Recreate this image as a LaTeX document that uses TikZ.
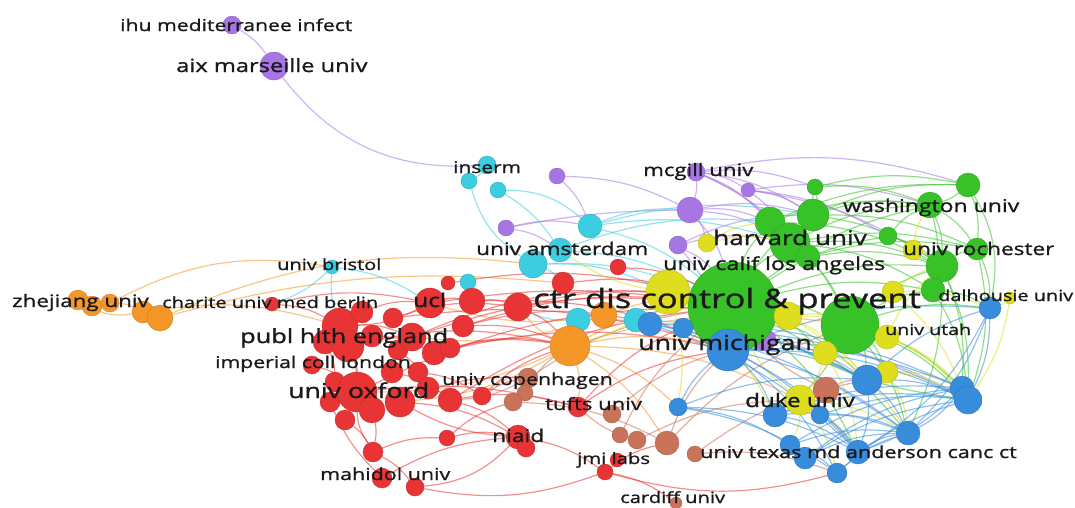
\documentclass[tikz,border=0pt]{standalone}
\usepackage{fontspec}
\setmainfont[FakeStretch=1.3,FakeBold=1.2]{Open Sans}

\definecolor{vpurple}{RGB}{168,118,228}
\definecolor{vcyan}{RGB}{60,205,225}
\definecolor{vred}{RGB}{232,52,52}
\definecolor{vorange}{RGB}{245,150,40}
\definecolor{vgreen}{RGB}{55,195,40}
\definecolor{vyellow}{RGB}{222,222,30}
\definecolor{vblue}{RGB}{55,140,220}
\definecolor{vbrown}{RGB}{200,115,90}

\pgfdeclarelayer{edges}
\pgfsetlayers{edges,main}

\begin{document}
\begin{tikzpicture}[x=1pt,y=-1pt,
  vos/.style={circle,inner sep=0pt,fill=#1,draw=#1!80!black,line width=0.3pt},
  pn/.style={vos=vpurple,minimum size=#1},
  cn/.style={vos=vcyan,minimum size=#1},
  on/.style={vos=vorange,minimum size=#1},
  rn/.style={vos=vred,minimum size=#1},
  bn/.style={vos=vbrown,minimum size=#1},
  gn/.style={vos=vgreen,minimum size=#1},
  yn/.style={vos=vyellow,minimum size=#1},
  ln/.style={vos=vblue,minimum size=#1},
  link/.style={draw=#1,draw opacity=0.55,line width=1.2pt,bend left=12},
  lab/.style={anchor=base west,inner sep=0pt,text=black!90,font=\fontsize{#1}{#1}\selectfont}]

  \useasboundingbox (0,0) rectangle (1075,507);

  \node[pn=18] (ihu) at (232,25) {};
  \node[pn=28] (aix) at (274,66) {};
  \node[pn=16] (p1) at (557,176) {};
  \node[pn=16] (p2) at (506,228) {};
  \node[pn=18] (mcg) at (696,172) {};
  \node[pn=14] (p3) at (748,190) {};
  \node[pn=26] (p4) at (690,210) {};
  \node[pn=18] (p5) at (678,245) {};
  \node[pn=22] (p6) at (765,340) {};

  \node[cn=18] (ins1) at (487,165) {};
  \node[cn=16] (ins2) at (469,181) {};
  \node[cn=16] (ins3) at (498,190) {};
  \node[cn=24] (c1) at (590,226) {};
  \node[cn=24] (ams1) at (560,250) {};
  \node[cn=28] (ams2) at (533,264) {};
  \node[cn=16] (c2) at (468,282) {};
  \node[cn=14] (bri) at (332,267) {};
  \node[cn=24] (c3) at (578,320) {};
  \node[cn=24] (c4) at (636,320) {};

  \node[on=20] (zj1) at (78,300) {};
  \node[on=20] (zj2) at (92,306) {};
  \node[on=18] (zj3) at (110,303) {};
  \node[on=22] (o4) at (143,312) {};
  \node[on=26] (o5) at (160,318) {};
  \node[on=40] (o6) at (570,346) {};
  \node[on=26] (o7) at (604,315) {};

  \node[rn=14] (ch) at (272,304) {};
  \node[rn=14] (r1) at (448,283) {};
  \node[rn=30] (ucl) at (430,303) {};
  \node[rn=26] (r2) at (472,301) {};
  \node[rn=28] (r3) at (518,307) {};
  \node[rn=22] (r4) at (563,283) {};
  \node[rn=16] (r5) at (618,267) {};
  \node[rn=20] (r12) at (393,318) {};
  \node[rn=24] (r16) at (325,342) {};
  \node[rn=36] (r6) at (340,326) {};
  \node[rn=22] (r8) at (362,312) {};
  \node[rn=22] (r17) at (372,336) {};
  \node[rn=32] (r7) at (348,346) {};
  \node[rn=20] (r18) at (398,350) {};
  \node[rn=28] (r9) at (412,337) {};
  \node[rn=24] (r10) at (434,353) {};
  \node[rn=20] (r19) at (450,348) {};
  \node[rn=22] (r11) at (463,326) {};
  \node[rn=18] (imp) at (312,365) {};
  \node[rn=22] (ox5) at (392,372) {};
  \node[rn=20] (ox6) at (418,372) {};
  \node[rn=20] (r21) at (335,382) {};
  \node[rn=20] (ox2) at (330,402) {};
  \node[rn=22] (r20) at (428,388) {};
  \node[rn=40] (ox1) at (357,392) {};
  \node[rn=26] (r22) at (372,410) {};
  \node[rn=20] (ox3) at (345,420) {};
  \node[rn=30] (ox4) at (400,402) {};
  \node[rn=24] (r13) at (450,400) {};
  \node[rn=18] (r14) at (482,396) {};
  \node[rn=16] (r15) at (447,438) {};
  \node[rn=24] (nia) at (518,437) {};
  \node[rn=18] (nia2) at (526,448) {};
  \node[rn=20] (mah1) at (373,452) {};
  \node[rn=20] (mah2) at (382,478) {};
  \node[rn=18] (mah3) at (415,487) {};
  \node[rn=20] (tuf) at (578,407) {};
  \node[rn=14] (jmi2) at (617,460) {};
  \node[rn=16] (jmi) at (605,472) {};

  \node[bn=20] (b1) at (528,378) {};
  \node[bn=16] (b2) at (525,393) {};
  \node[bn=18] (b3) at (513,402) {};
  \node[bn=18] (b4) at (612,414) {};
  \node[bn=16] (b5) at (620,435) {};
  \node[bn=18] (b6) at (637,440) {};
  \node[bn=24] (b7) at (667,443) {};
  \node[bn=16] (b8) at (695,454) {};
  \node[bn=26] (b9) at (826,390) {};
  \node[bn=12] (car) at (676,503) {};

  \node[gn=16] (g6) at (815,187) {};
  \node[gn=24] (g8) at (968,185) {};
  \node[gn=26] (g9) at (930,205) {};
  \node[gn=30] (g2) at (770,222) {};
  \node[gn=32] (g3) at (813,215) {};
  \node[gn=18] (g7) at (888,236) {};
  \node[gn=40] (g4) at (790,243) {};
  \node[gn=24] (g5) at (808,257) {};
  \node[gn=22] (g11) at (977,249) {};
  \node[gn=32] (g10) at (942,266) {};
  \node[gn=24] (g12) at (933,290) {};
  \node[gn=90] (ctr) at (733,307) {};
  \node[gn=58] (g1) at (850,325) {};

  \node[yn=18] (y1) at (707,243) {};
  \node[yn=44] (y2) at (668,292) {};
  \node[yn=28] (y3) at (788,316) {};
  \node[yn=22] (y10) at (893,292) {};
  \node[yn=20] (y6) at (913,250) {};
  \node[yn=24] (y5) at (887,337) {};
  \node[yn=24] (y4) at (825,353) {};
  \node[yn=22] (y7) at (887,372) {};
  \node[yn=30] (y8) at (800,400) {};
  \node[yn=12] (y9) at (1010,298) {};

  \node[ln=24] (bl2) at (650,324) {};
  \node[ln=20] (bl1) at (683,328) {};
  \node[ln=42] (mic) at (728,350) {};
  \node[ln=22] (dal) at (990,308) {};
  \node[ln=30] (bl3) at (867,380) {};
  \node[ln=18] (bl13) at (678,407) {};
  \node[ln=24] (bl4) at (775,415) {};
  \node[ln=18] (bl5) at (820,415) {};
  \node[ln=24] (bl6) at (962,388) {};
  \node[ln=28] (bl7) at (968,400) {};
  \node[ln=24] (bl8) at (908,433) {};
  \node[ln=20] (bl9) at (790,445) {};
  \node[ln=22] (bl10) at (805,458) {};
  \node[ln=24] (bl11) at (858,452) {};
  \node[ln=20] (bl12) at (837,473) {};

  \begin{pgfonlayer}{edges}
  \path[link=vpurple]
    (ihu) edge (aix)
    (aix) edge[bend right=28] (ins1)
    (mcg) edge[bend left=14] (g8)
    (mcg) edge (g3)
    (mcg) edge (g2)
    (mcg) edge (g4)
    (mcg) edge (g6)
    (mcg) edge (p4)
    (mcg) edge (p3)
    (mcg) edge (g5)
    (p3) edge (g3)
    (p3) edge (g4)
    (p3) edge (g9)
    (p3) edge (g7)
    (p3) edge (g10)
    (p4) edge (g2)
    (p4) edge (g3)
    (p4) edge (ctr)
    (p4) edge (g4)
    (p4) edge (y1)
    (p5) edge (ctr)
    (p5) edge (g3)
    (p5) edge (g4)
    (p5) edge (mic)
    (p1) edge (c1)
    (p1) edge (p4)
    (p2) edge (c1)
    (p2) edge[bend left=5] (p4)
    (p2) edge (ams1)
    (p6) edge (bl3)
    (p6) edge (bl7);
  \path[link=vcyan]
    (ins1) edge (ins2)
    (ins2) edge[bend right=20] (ams2)
    (ins3) edge[bend left=20] (c1)
    (ins3) edge (ams1)
    (c1) edge (ctr)
    (c1) edge (g4)
    (c1) edge (p4)
    (c1) edge (g3)
    (ams1) edge (ctr)
    (ams1) edge (g2)
    (ams2) edge (ctr)
    (ams2) edge (r4)
    (ams2) edge (y2)
    (c2) edge (r2)
    (bri) edge (ch)
    (bri) edge[bend right=10] (r6)
    (bri) edge (ucl)
    (c3) edge (mic)
    (c3) edge (r3)
    (c4) edge (ctr)
    (c4) edge (bl3);
  \path[link=vorange]
    (zj1) edge (zj2)
    (zj2) edge (zj3)
    (zj3) edge (o4)
    (o4) edge (o5)
    (zj1) edge[bend right=20] (o4)
    (zj3) edge[bend left=18] (bri)
    (o5) edge[bend left=14] (ams2)
    (o5) edge[bend left=10] (r4)
    (o4) edge (r6)
    (o6) edge (ctr)
    (o6) edge (r3)
    (o6) edge (mic)
    (o6) edge (bl13)
    (o6) edge (b7)
    (o6) edge (y8)
    (o6) edge (ox4)
    (o6) edge (g1)
    (o6) edge (tuf)
    (o6) edge (ox1)
    (o7) edge (ctr)
    (o7) edge (ucl)
    (o7) edge (r9);
  \path[link=vred]
    (ch) edge (r6)
    (ch) edge (ucl)
    (ucl) edge (r2)
    (ucl) edge (r6)
    (ucl) edge[bend left=8] (ctr)
    (r1) edge (ctr)
    (r2) edge (r3)
    (r2) edge (mic)
    (r3) edge (ctr)
    (r3) edge (o6)
    (r4) edge (ctr)
    (r5) edge (ctr)
    (r6) edge (ox1)
    (r6) edge (r9)
    (r7) edge (ox1)
    (r7) edge (o6)
    (r8) edge (ucl)
    (r16) edge (r21)
    (r17) edge (r10)
    (r18) edge (r20)
    (r19) edge (o6)
    (r20) edge (r13)
    (r22) edge (mah1)
    (imp) edge (ox1)
    (ox1) edge[bend right=15] (mah1)
    (ox1) edge (ctr)
    (ox1) edge[bend left=10] (tuf)
    (ox3) edge (mah1)
    (ox2) edge[bend right=10] (mah2)
    (ox4) edge (nia)
    (ox5) edge (r13)
    (ox6) edge (r14)
    (mah1) edge (mah3)
    (mah1) edge (r15)
    (mah2) edge (nia)
    (mah3) edge[bend right=20] (nia)
    (mah3) edge[bend right=15] (jmi)
    (r15) edge (nia)
    (r15) edge (b3)
    (nia) edge (jmi)
    (nia) edge (ox4)
    (r13) edge (ctr)
    (r13) edge (tuf)
    (r13) edge (nia)
    (r14) edge (o6)
    (r14) edge (b1)
    (tuf) edge (ctr)
    (tuf) edge (mic)
    (jmi) edge (b7)
    (jmi) edge (car)
    (jmi) edge[bend right=15] (bl12)
    (r9) edge (ctr)
    (r9) edge (y2)
    (r10) edge (mic)
    (r10) edge (o6)
    (r11) edge (o6)
    (r11) edge (c4)
    (r11) edge (ctr)
    (ox4) edge (b1)
    (r12) edge (r3)
    (r12) edge (mic);
  \path[link=vbrown]
    (b1) edge (ctr)
    (b1) edge (r13)
    (b2) edge (o6)
    (b3) edge (b7)
    (b4) edge (mic)
    (b5) edge (ctr)
    (b6) edge (y8)
    (b6) edge (tuf)
    (b7) edge (g1)
    (b7) edge (mic)
    (b8) edge (bl12)
    (b8) edge (bl3)
    (b9) edge (ctr)
    (b9) edge (bl3);
  \path[link=vgreen]
    (ctr) edge (g1)
    (ctr) edge (g2)
    (ctr) edge (g3)
    (ctr) edge (g4)
    (ctr) edge (g7)
    (ctr) edge (g9)
    (ctr) edge (g10)
    (ctr) edge (g12)
    (ctr) edge (bl3)
    (ctr) edge (bl11)
    (ctr) edge (bl8)
    (ctr) edge (y4)
    (ctr) edge[bend right=12] (bl7)
    (g1) edge (g10)
    (g1) edge (g12)
    (g1) edge (bl3)
    (g1) edge (bl6)
    (g1) edge (bl7)
    (g1) edge (bl8)
    (g1) edge (dal)
    (g1) edge (bl4)
    (g1) edge (y7)
    (g2) edge (g9)
    (g2) edge (g10)
    (g2) edge (g8)
    (g2) edge (g1)
    (g3) edge (g8)
    (g3) edge (g9)
    (g3) edge (g10)
    (g3) edge (g11)
    (g4) edge (g9)
    (g4) edge (g10)
    (g4) edge (g11)
    (g4) edge (g12)
    (g4) edge (g1)
    (g5) edge (g10)
    (g5) edge (g11)
    (g6) edge (g3)
    (g6) edge (g4)
    (g6) edge (g8)
    (g6) edge (g9)
    (g7) edge (g9)
    (g7) edge (g10)
    (g8) edge (g9)
    (g8) edge (g11)
    (g8) edge[bend left=20] (dal)
    (g9) edge (g10)
    (g9) edge (g11)
    (g9) edge (g12)
    (g10) edge (g11)
    (g10) edge (g12)
    (g10) edge (bl6)
    (g10) edge (bl7)
    (g10) edge (bl8)
    (g11) edge (dal)
    (g11) edge[bend left=15] (bl7)
    (g12) edge (dal)
    (g12) edge (bl7);
  \path[link=vyellow]
    (y1) edge (g2)
    (y1) edge (g4)
    (y2) edge (ctr)
    (y2) edge (mic)
    (y2) edge (o6)
    (y2) edge (ams1)
    (y2) edge (bl13)
    (y2) edge (bl4)
    (y3) edge (g1)
    (y3) edge (bl3)
    (y3) edge (bl8)
    (y3) edge (y5)
    (y4) edge (bl3)
    (y4) edge (bl11)
    (y4) edge (y8)
    (y5) edge (bl6)
    (y5) edge (bl7)
    (y5) edge (g10)
    (y6) edge (g9)
    (y6) edge (g10)
    (y7) edge (bl6)
    (y7) edge (bl7)
    (y7) edge (bl8)
    (y8) edge (ctr)
    (y8) edge (bl8)
    (y8) edge (bl9)
    (y8) edge (bl11)
    (y8) edge (bl12)
    (y9) edge (dal)
    (y9) edge (bl7)
    (y10) edge (dal)
    (y10) edge (bl6)
    (y10) edge (g10);
  \path[link=vblue]
    (mic) edge (ctr)
    (mic) edge (bl3)
    (mic) edge (bl4)
    (mic) edge (bl6)
    (mic) edge (bl7)
    (mic) edge (bl8)
    (mic) edge (bl11)
    (mic) edge (bl12)
    (mic) edge (dal)
    (bl1) edge (bl3)
    (bl1) edge (bl7)
    (bl1) edge (bl11)
    (bl2) edge (bl3)
    (bl2) edge (bl6)
    (bl2) edge (bl8)
    (bl2) edge (bl11)
    (bl3) edge (bl7)
    (bl3) edge (bl8)
    (bl3) edge (bl11)
    (bl3) edge (dal)
    (bl4) edge (bl6)
    (bl4) edge (bl7)
    (bl4) edge (bl8)
    (bl4) edge (bl11)
    (bl5) edge (bl7)
    (bl5) edge (bl8)
    (bl5) edge (bl11)
    (bl6) edge (bl8)
    (bl6) edge (bl11)
    (bl9) edge (bl6)
    (bl9) edge (bl8)
    (bl9) edge (bl12)
    (bl10) edge (bl6)
    (bl10) edge (bl7)
    (bl10) edge (bl8)
    (bl11) edge (bl8)
    (bl12) edge (bl7)
    (bl12) edge (bl8)
    (bl13) edge (bl3)
    (bl13) edge (bl9)
    (bl13) edge (bl11)
    (bl13) edge (bl12)
    (bl13) edge (mic)
    (dal) edge (bl7)
    (dal) edge (bl8)
    (dal) edge[bend left=15] (bl11);
  \end{pgfonlayer}

  \node[lab=16.3] (tihu) at (120,31) {ihu mediterranee infect};
  \node[lab=18.2] (taix) at (176,72) {aix marseille univ};
  \node[lab=16.1] (tins) at (453,173) {inserm};
  \node[lab=17.1] (tmcg) at (643,176) {mcgill univ};
  \node[lab=17.7] (twas) at (843,212) {washington univ};
  \node[lab=20.1] (thar) at (713,245) {harvard univ};
  \node[lab=17.4] (troc) at (903,255) {univ rochester};
  \node[lab=17.4] (tams) at (476,255) {univ amsterdam};
  \node[lab=17.9] (tcal) at (663,270) {univ calif los angeles};
  \node[lab=15.4] (tbri) at (277,270) {univ bristol};
  \node[lab=17.2] (tzhe) at (12,307) {zhejiang univ};
  \node[lab=15.4] (tcha) at (162,308) {charite univ med berlin};
  \node[lab=18.9] (tucl) at (413,307) {ucl};
  \node[lab=26.6] (tctr) at (533,308) {ctr dis control \& prevent};
  \node[lab=15.3] (tdal) at (938,301) {dalhousie univ};
  \node[lab=19.5] (tpub) at (240,343) {publ hlth england};
  \node[lab=15.1] (tuta) at (885,335) {univ utah};
  \node[lab=20.6] (tmic) at (638,350) {univ michigan};
  \node[lab=16.3] (timp) at (215,368) {imperial coll london};
  \node[lab=20.5] (toxf) at (288,398) {univ oxford};
  \node[lab=16.4] (tcop) at (442,385) {univ copenhagen};
  \node[lab=17] (ttuf) at (545,410) {tufts univ};
  \node[lab=18.6] (tduk) at (745,407) {duke univ};
  \node[lab=17.5] (tnia) at (492,442) {niaid};
  \node[lab=15.6] (tjmi) at (577,464) {jmi labs};
  \node[lab=16.6] (ttex) at (700,458) {univ texas md anderson canc ct};
  \node[lab=16.5] (tmah) at (320,480) {mahidol univ};
  \node[lab=15.5] (tcar) at (620,503) {cardiff univ};
\end{tikzpicture}
\end{document}
